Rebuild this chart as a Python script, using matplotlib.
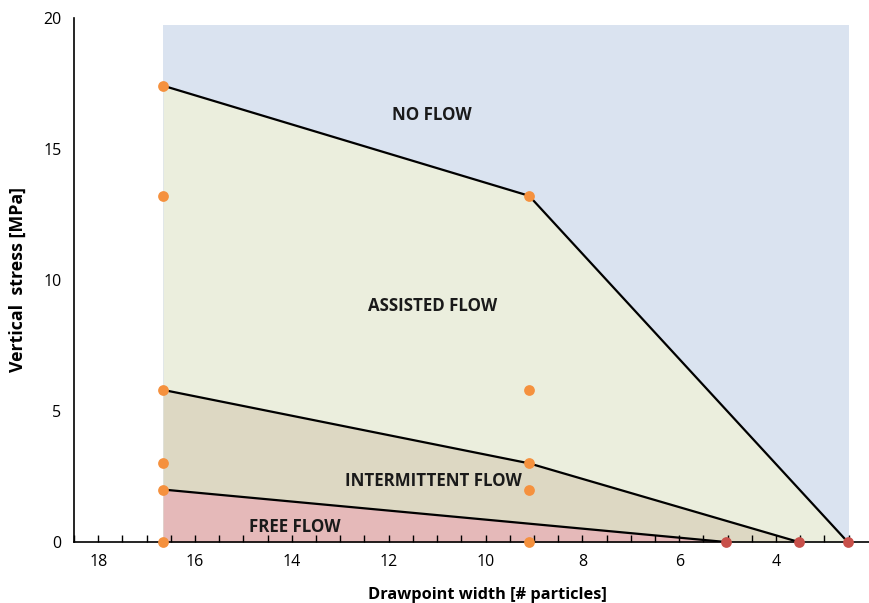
import numpy as np
import matplotlib
matplotlib.use("Agg")
import matplotlib.pyplot as plt
from matplotlib.ticker import MultipleLocator

plt.rcParams['font.family'] = ['Open Sans', 'DejaVu Sans']

# measured points (drawpoint width, vertical stress)
tested_x = [16.66, 16.66, 16.66, 16.66, 16.66, 16.66, 9.1, 9.1, 9.1, 9.1, 9.1]
tested_y = [17.4, 13.2, 5.8, 3.0, 2.0, 0.0, 13.2, 5.8, 3.0, 2.0, 0.0]
limit_x = [5.04, 3.53, 2.52]
limit_y = [0.0, 0.0, 0.0]

# regime boundaries
noflow_x = [16.66, 9.1, 2.52]
noflow_y = [17.4, 13.2, 0.0]
assisted_x = [16.66, 9.1, 3.53]
assisted_y = [5.8, 3.0, 0.0]
free_x = [16.66, 5.04]
free_y = [2.0, 0.0]

region_left, region_right, region_top = 16.66, 2.49, 19.7

labels = ["NO FLOW", "ASSISTED FLOW", "INTERMITTENT FLOW", "FREE FLOW"]
label_x = [11.1, 11.1, 11.08, 13.93]
label_y = [16.3, 9.0, 2.33, 0.57]

fig = plt.figure(figsize=(8.69, 6.03), dpi=100)
ax = fig.add_axes([74 / 869, 61 / 603, 795 / 869, 524.5 / 603])

ax.fill_between([region_left, region_right], 0, region_top, color='#dae3f0', lw=0, zorder=0.1)
ax.fill_between(noflow_x, 0, noflow_y, color='#ebeedd', lw=0, zorder=0.2)
ax.fill_between(assisted_x, 0, assisted_y, color='#ddd8c3', lw=0, zorder=0.3)
ax.fill_between(free_x, 0, free_y, color='#e5b9b9', lw=0, zorder=0.4)

for xs, ys in [(noflow_x, noflow_y), (assisted_x, assisted_y), (free_x, free_y)]:
    ax.plot(xs, ys, color='black', lw=1.6, zorder=5)

ax.scatter(tested_x, tested_y, s=60, color='#f5913e', zorder=6, clip_on=False, lw=0)
ax.scatter(limit_x, limit_y, s=60, color='#c8504a', zorder=6, clip_on=False, lw=0)

for t, x, y in zip(labels, label_x, label_y):
    ax.text(x, y, t, ha='center', va='center', fontsize=12.2, fontweight='bold',
            color='#1a1a1a', zorder=7)

ax.set_xlim(18.5, 2.08)
ax.set_ylim(0, 20)
ax.xaxis.set_major_locator(MultipleLocator(2))
ax.xaxis.set_minor_locator(MultipleLocator(0.5))
ax.yaxis.set_major_locator(MultipleLocator(5))
ax.tick_params(axis='x', which='both', direction='in', length=5, width=1, pad=9, labelsize=11.5)
ax.tick_params(axis='y', length=0, pad=9, labelsize=11.5)
for side in ['top', 'right']:
    ax.spines[side].set_visible(False)
ax.spines['left'].set_linewidth(1.2)
ax.spines['bottom'].set_linewidth(1.2)
ax.xaxis.set_zorder(5.5)

ax.set_xlabel('Drawpoint width [# particles]', fontsize=11.8, fontweight='bold')
ax.set_ylabel('Vertical  stress [MPa]', fontsize=12.8, fontweight='bold', labelpad=12)
ax.xaxis.set_label_coords((487 - 74) / 795, -0.085)

fig.savefig('out.png', dpi=100)
